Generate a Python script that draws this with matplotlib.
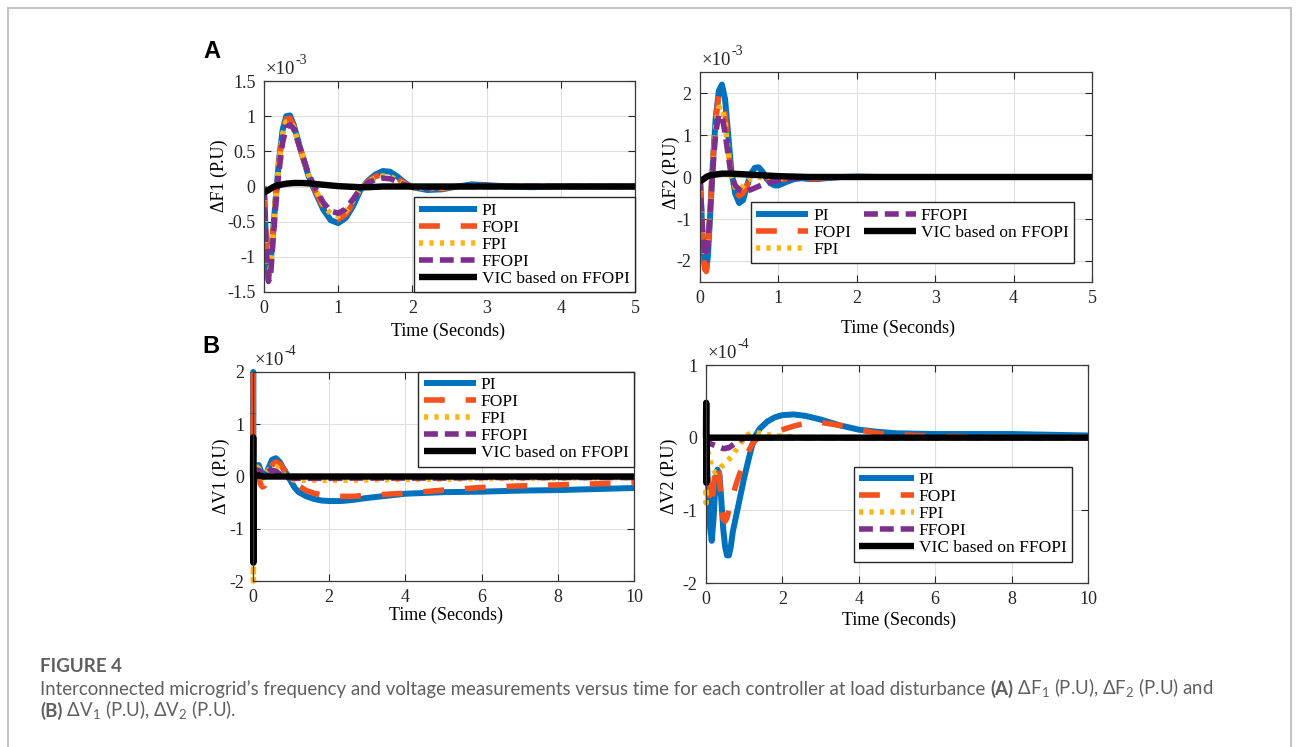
import matplotlib
matplotlib.use("Agg")
import matplotlib.pyplot as plt
from matplotlib.lines import Line2D

plt.rcParams['font.family'] = ['Liberation Serif', 'DejaVu Serif']
plt.rcParams['axes.unicode_minus'] = False
plt.rcParams['lines.scale_dashes'] = False
plt.rcParams['mathtext.fontset'] = 'custom'
plt.rcParams['mathtext.rm'] = 'Lato'
plt.rcParams['mathtext.bf'] = 'Lato:bold'

names = ['PI', 'FOPI', 'FPI', 'FFOPI', 'VIC based on FFOPI']

# ---- (A) frequency deviation of area 1, x1e-3 p.u. ----
t_f1 = [0, 0.03, 0.06, 0.09, 0.12, 0.16, 0.2, 0.25, 0.3, 0.35, 0.4, 0.5, 0.6, 0.7,
        0.8, 0.9, 1.0, 1.1, 1.2, 1.3, 1.4, 1.5, 1.6, 1.7, 1.8, 1.9, 2.0, 2.2, 2.4,
        2.6, 2.8, 3.0, 3.3, 3.6, 4.0, 4.5, 5.0]
df1_pi = [0, -0.9, -1.3, -1.1, -0.65, -0.15, 0.35, 0.8, 1.0, 1.01, 0.88, 0.5, 0.15, -0.1,
          -0.33, -0.48, -0.52, -0.45, -0.28, -0.05, 0.08, 0.17, 0.22, 0.21, 0.14, 0.05, -0.01,
          -0.05, -0.04, 0.0, 0.03, 0.02, 0.0, -0.01, 0, 0, 0]
df1_fopi = [0, -0.95, -1.33, -1.1, -0.62, -0.12, 0.35, 0.78, 0.96, 0.97, 0.86, 0.5, 0.16, -0.08,
            -0.3, -0.44, -0.47, -0.4, -0.24, -0.05, 0.07, 0.14, 0.18, 0.17, 0.11, 0.04, -0.01,
            -0.04, -0.03, 0, 0.02, 0.01, 0, 0, 0, 0, 0]
df1_fpi = [0, -0.95, -1.33, -1.12, -0.65, -0.15, 0.3, 0.74, 0.92, 0.93, 0.84, 0.5, 0.17, -0.06,
           -0.26, -0.39, -0.42, -0.36, -0.2, -0.03, 0.07, 0.12, 0.15, 0.14, 0.09, 0.03, -0.01,
           -0.03, -0.02, 0, 0.01, 0, 0, 0, 0, 0, 0]
df1_ffopi = [0, -0.9, -1.35, -1.25, -0.8, -0.25, 0.2, 0.62, 0.84, 0.88, 0.82, 0.5, 0.18, -0.04,
             -0.23, -0.35, -0.38, -0.32, -0.18, -0.03, 0.05, 0.1, 0.12, 0.11, 0.07, 0.02, -0.01,
             -0.02, -0.01, 0, 0, 0, 0, 0, 0, 0, 0]
df1_vic = [-0.08, -0.07, -0.05, -0.03, -0.01, 0.01, 0.02, 0.03, 0.04, 0.045, 0.05, 0.05, 0.045,
           0.035, 0.025, 0.015, 0.005, 0, -0.005, -0.01, -0.01, -0.005, 0, 0, 0, 0, 0, 0, 0,
           0, 0, 0, 0, 0, 0, 0, 0]

# ---- (A) frequency deviation of area 2, x1e-3 p.u. ----
t_f2 = [0, 0.03, 0.06, 0.08, 0.1, 0.13, 0.16, 0.2, 0.24, 0.28, 0.32, 0.36, 0.4, 0.45, 0.5,
        0.55, 0.6, 0.65, 0.7, 0.75, 0.8, 0.85, 0.9, 0.95, 1.0, 1.1, 1.2, 1.3, 1.4, 1.5, 1.6,
        1.8, 2.0, 2.3, 2.6, 3.0, 3.5, 4.0, 5.0]
df2_pi = [0, -1.3, -2.1, -2.2, -1.9, -0.9, 0.2, 1.4, 2.05, 2.2, 1.85, 1.0, 0.15, -0.4, -0.62,
          -0.55, -0.2, 0.08, 0.22, 0.23, 0.12, -0.04, -0.15, -0.2, -0.2, -0.12, -0.05, -0.03,
          -0.05, -0.05, -0.03, 0, 0.01, 0, 0, 0, 0, 0, 0]
df2_fopi = [0, -1.4, -2.2, -2.25, -1.9, -0.8, 0.3, 1.4, 1.95, 1.95, 1.5, 0.7, 0.0, -0.35, -0.45,
            -0.38, -0.2, -0.05, 0.02, 0.03, 0.0, -0.04, -0.07, -0.08, -0.07, -0.04, -0.02, -0.02,
            -0.04, -0.04, -0.02, 0, 0, 0, 0, 0, 0, 0, 0]
df2_fpi = [0, -1.2, -1.85, -1.9, -1.6, -0.7, 0.2, 1.2, 1.65, 1.68, 1.3, 0.6, 0.0, -0.25, -0.3,
           -0.22, -0.1, -0.03, 0, 0, -0.02, -0.04, -0.05, -0.05, -0.04, -0.02, -0.01, -0.01,
           0, 0, 0, 0, 0, 0, 0, 0, 0, 0, 0]
df2_ffopi = [0, -1.2, -1.85, -1.9, -1.65, -0.8, 0.1, 1.05, 1.48, 1.45, 1.05, 0.5, 0.05, -0.2,
             -0.3, -0.35, -0.33, -0.3, -0.26, -0.22, -0.18, -0.15, -0.12, -0.1, -0.08, -0.05,
             -0.03, -0.02, -0.01, 0, 0, 0, 0, 0, 0, 0, 0, 0, 0]
df2_vic = [-0.1, -0.07, -0.03, 0.0, 0.02, 0.04, 0.05, 0.06, 0.07, 0.08, 0.08, 0.08, 0.08, 0.075,
           0.07, 0.065, 0.06, 0.055, 0.05, 0.045, 0.04, 0.035, 0.03, 0.025, 0.02, 0.015, 0.01,
           0.005, 0, 0, 0, 0, 0, 0, 0, 0, 0, 0, 0]

# ---- (B) voltage deviation of area 1, x1e-4 p.u. ----
t_v1 = [0, 0.005, 0.01, 0.02, 0.05, 0.1, 0.15, 0.2, 0.25, 0.3, 0.35, 0.4, 0.5, 0.6, 0.7, 0.8,
        0.9, 1.0, 1.1, 1.2, 1.4, 1.6, 1.8, 2.0, 2.3, 2.6, 3.0, 3.5, 4.0, 5.0, 6.0, 7.0, 8.0,
        9.0, 10.0]
dv1_pi = [0, 2.0, -0.5, -0.3, 0.05, 0.2, 0.22, 0.12, 0.03, 0.0, 0.05, 0.15, 0.32, 0.35, 0.28,
          0.15, 0.03, -0.1, -0.22, -0.3, -0.38, -0.43, -0.46, -0.47, -0.47, -0.45, -0.41, -0.37,
          -0.33, -0.3, -0.29, -0.27, -0.26, -0.24, -0.22]
dv1_fopi = [0, 2.0, 0.5, 0.1, 0.05, 0.1, 0.0, -0.15, -0.2, -0.18, -0.05, 0.08, 0.22, 0.28,
            0.25, 0.15, 0.05, -0.05, -0.12, -0.18, -0.27, -0.32, -0.35, -0.37, -0.38, -0.38,
            -0.36, -0.34, -0.32, -0.26, -0.21, -0.18, -0.16, -0.14, -0.12]
dv1_fpi = [0, -0.3, -2.0, -0.2, 0.1, 0.18, 0.15, 0.05, -0.03, -0.02, 0.05, 0.12, 0.18, 0.19,
           0.13, 0.05, -0.02, -0.05, -0.07, -0.07, -0.07, -0.07, -0.07, -0.07, -0.07, -0.07,
           -0.065, -0.06, -0.055, -0.05, -0.04, -0.035, -0.03, -0.025, -0.02]
dv1_ffopi = [0, 0.3, -0.3, 0.0, 0.05, 0.1, 0.12, 0.08, 0.04, 0.04, 0.07, 0.1, 0.12, 0.1, 0.05,
             0.0, -0.02, -0.03, -0.035, -0.035, -0.035, -0.035, -0.035, -0.035, -0.035, -0.03,
             -0.03, -0.03, -0.03, -0.03, -0.02, -0.02, -0.02, -0.02, -0.02]
dv1_vic = [0, 0.75, -1.65, -0.05, 0, 0.02, 0.02, 0.01, 0, 0, 0, 0, 0, 0, 0, 0, 0, 0, 0, 0, 0,
           0, 0, 0, 0, 0, 0, 0, 0, 0, 0, 0, 0, 0, 0]

# ---- (B) voltage deviation of area 2, x1e-4 p.u. ----
t_v2 = [0, 0.005, 0.01, 0.02, 0.05, 0.1, 0.15, 0.2, 0.25, 0.3, 0.35, 0.4, 0.45, 0.5, 0.55,
        0.6, 0.65, 0.7, 0.8, 0.9, 1.0, 1.1, 1.2, 1.3, 1.4, 1.6, 1.8, 2.0, 2.3, 2.6, 3.0, 3.5,
        4.0, 4.5, 5.0, 6.0, 7.0, 8.0, 9.0, 10.0]
dv2_pi = [0, -0.05, -0.15, -0.3, -0.6, -1.2, -1.42, -1.1, -0.6, -0.44, -0.5, -0.85, -1.25,
          -1.5, -1.62, -1.62, -1.5, -1.3, -1.05, -0.8, -0.55, -0.33, -0.12, 0.03, 0.12, 0.22,
          0.28, 0.31, 0.32, 0.3, 0.25, 0.17, 0.11, 0.08, 0.06, 0.05, 0.05, 0.05, 0.04, 0.03]
dv2_fopi = [0, 0.3, 0.2, -0.2, -0.6, -0.95, -0.95, -0.65, -0.42, -0.35, -0.5, -0.95, -1.12,
            -1.15, -1.1, -1.0, -0.9, -0.8, -0.62, -0.47, -0.33, -0.2, -0.1, -0.03, 0.0, 0.03,
            0.07, 0.11, 0.16, 0.2, 0.21, 0.17, 0.11, 0.06, 0.04, 0.02, 0.01, 0, 0, 0]
dv2_fpi = [0, -0.9, -0.5, -0.3, -0.2, -0.3, -0.4, -0.45, -0.48, -0.47, -0.43, -0.4, -0.38,
           -0.36, -0.33, -0.3, -0.27, -0.24, -0.16, -0.08, -0.01, 0.04, 0.07, 0.07, 0.06,
           0.04, 0.03, 0.02, 0.01, 0, 0, 0, 0, 0, 0, 0, 0, 0, 0, 0]
dv2_ffopi = [0, 0.1, -0.1, -0.05, -0.05, -0.08, -0.09, -0.1, -0.11, -0.12, -0.13, -0.14,
             -0.15, -0.15, -0.14, -0.14, -0.12, -0.1, -0.06, -0.03, -0.01, 0, 0, 0, 0, 0, 0,
             0, 0, 0, 0, 0, 0, 0, 0, 0, 0, 0, 0, 0]
dv2_vic = [0, 0.48, -0.62, 0, 0, 0, 0, 0, 0, 0, 0, 0, 0, 0, 0, 0, 0, 0, 0, 0, 0, 0, 0, 0, 0,
           0, 0, 0, 0, 0, 0, 0, 0, 0, 0, 0, 0, 0, 0, 0]

colors = ['#0072BD', '#F4511E', '#FDB515', '#7E2F8E', '#000000']
dashes = [None, (15, 15), (3, 4.5), (10, 5), None]
widths = [4.3, 4.0, 4.0, 4.0, 4.6]

fig = plt.figure(figsize=(12.96, 7.47), dpi=100)

# outer frame of the figure panel
frame_kw = dict(color='#c4c4c4', lw=1.5, transform=fig.transFigure)
fig.add_artist(Line2D([7.5 / 1296, 7.5 / 1296], [0, 1 - 7.5 / 747], **frame_kw))
fig.add_artist(Line2D([7.5 / 1296, 1290.5 / 1296], [1 - 7.5 / 747, 1 - 7.5 / 747], **frame_kw))
fig.add_artist(Line2D([1290.5 / 1296, 1290.5 / 1296], [0, 1 - 7.5 / 747], **frame_kw))


def panel(rect, t, series, xlim, ylim, yticks, ylabel, expo, ylab_xy, xlab_xy, leg,
          clip=True, hlen=3.1, bpad=0.3):
    ax = fig.add_axes(rect)
    for name, y, c, d, w in zip(names, series, colors, dashes, widths):
        ln, = ax.plot(t, y, color=c, lw=w, label=name, solid_capstyle='butt',
                      clip_on=clip)
        if d is not None:
            ln.set_dashes(d)
    ax.set_xlim(xlim)
    ax.set_ylim(ylim)
    ax.set_yticks(yticks)
    ax.set_yticklabels([('%g' % v) for v in yticks])
    ax.grid(True, color='#dedede', lw=0.8)
    ax.set_axisbelow(True)
    ax.tick_params(direction='in', top=True, right=True, length=5, width=0.8,
                   labelsize=13, colors='#262626', pad=6)
    for s in ax.spines.values():
        s.set_color('#3a3a3a')
        s.set_linewidth(0.9)
        s.set_zorder(3)
    ax.set_ylabel(ylabel, fontsize=13)
    ax.yaxis.set_label_coords(*ylab_xy)
    ax.set_xlabel('Time (Seconds)', fontsize=13)
    ax.xaxis.set_label_coords(*xlab_xy)
    # exponent shown above the y axis
    base = ax.text(0.005, 1.015, '\u00d710', transform=ax.transAxes, fontsize=13.5,
                   ha='left', va='bottom', color='#262626')
    ax.annotate(expo, xy=(1.0, 0.62), xycoords=base, fontsize=10, ha='left',
                va='bottom', color='#262626')
    loc, anchor, ncol = leg
    ax.legend(loc=loc, bbox_to_anchor=anchor, ncol=ncol, fontsize=12.5, frameon=True,
              fancybox=False, edgecolor='#262626', framealpha=1, borderaxespad=0,
              handlelength=hlen, handletextpad=0.3, labelspacing=0.05, borderpad=bpad,
              columnspacing=0.7)
    return ax


panel([264 / 1296, 1 - 292 / 747, 371 / 1296, 211 / 747], t_f1,
      [df1_pi, df1_fopi, df1_fpi, df1_ffopi, df1_vic], (0, 5), (-1.5, 1.5),
      [-1.5, -1, -0.5, 0, 0.5, 1, 1.5], '\u0394F1 (P.U)', '-3',
      (-0.097, 0.55), (0.495, -0.147), ('lower right', (1.0, 0.0), 1), hlen=3.3)
panel([700 / 1296, 1 - 282 / 747, 392 / 1296, 210 / 747], t_f2,
      [df2_pi, df2_fopi, df2_fpi, df2_ffopi, df2_vic], (0, 5), (-2.5, 2.5),
      [-2, -1, 0, 1, 2], '\u0394F2 (P.U)', '-3',
      (-0.051, 0.52), (0.504, -0.181), ('lower right', (0.954, 0.09), 2), hlen=3.0)
panel([253 / 1296, 1 - 581 / 747, 381 / 1296, 209 / 747], t_v1,
      [dv1_pi, dv1_fopi, dv1_fpi, dv1_ffopi, dv1_vic], (0, 10), (-2, 2),
      [-2, -1, 0, 1, 2], '\u0394V1 (P.U)', '-4',
      (-0.060, 0.50), (0.507, -0.124), ('upper right', (1.0, 1.0), 1), clip=False,
      hlen=3.0)
panel([706 / 1296, 1 - 583 / 747, 382 / 1296, 218 / 747], t_v2,
      [dv2_pi, dv2_fopi, dv2_fpi, dv2_ffopi, dv2_vic], (0, 10), (-2, 1),
      [-2, -1, 0, 1], '\u0394V2 (P.U)', '-4',
      (-0.073, 0.49), (0.505, -0.133), ('lower right', (0.958, 0.098), 1), clip=False,
      hlen=3.15)

# panel letters
fig.text(203 / 1296, 1 - 58 / 747, 'A', fontsize=17, fontweight='bold',
         family='Liberation Sans', ha='left', va='baseline')
fig.text(202 / 1296, 1 - 353 / 747, 'B', fontsize=17, fontweight='bold',
         family='Liberation Sans', ha='left', va='baseline')

# caption
cap = dict(family=['Lato', 'DejaVu Sans'], color='#5f5f5f', va='baseline', ha='left')
fig.text(40 / 1296, 1 - 672 / 747, 'FIGURE 4', fontsize=13.5, fontweight='bold',
         **cap)


def chain(y_px, pieces):
    last = None
    for txt, bold in pieces:
        kw = dict(cap, fontsize=13.4, fontweight='bold' if bold else 'normal')
        if last is None:
            last = fig.text(40 / 1296, 1 - y_px / 747, txt, **kw)
        else:
            last = fig.add_artist(plt.Annotation(
                txt, xy=(1.0, 1 - y_px / 747), xycoords=(last, 'figure fraction'), **kw))


chain(695, [("Interconnected microgrid\u2019s frequency and voltage measurements versus time "
             "for each controller at load disturbance ", False),
            ('(A)', True),
            (' \u0394F$_1$ (P.U), \u0394F$_2$ (P.U) and', False)])
chain(717, [('(B)', True),
            (' \u0394V$_1$ (P.U), \u0394V$_2$ (P.U).', False)])

fig.savefig('out.png', dpi=100)
